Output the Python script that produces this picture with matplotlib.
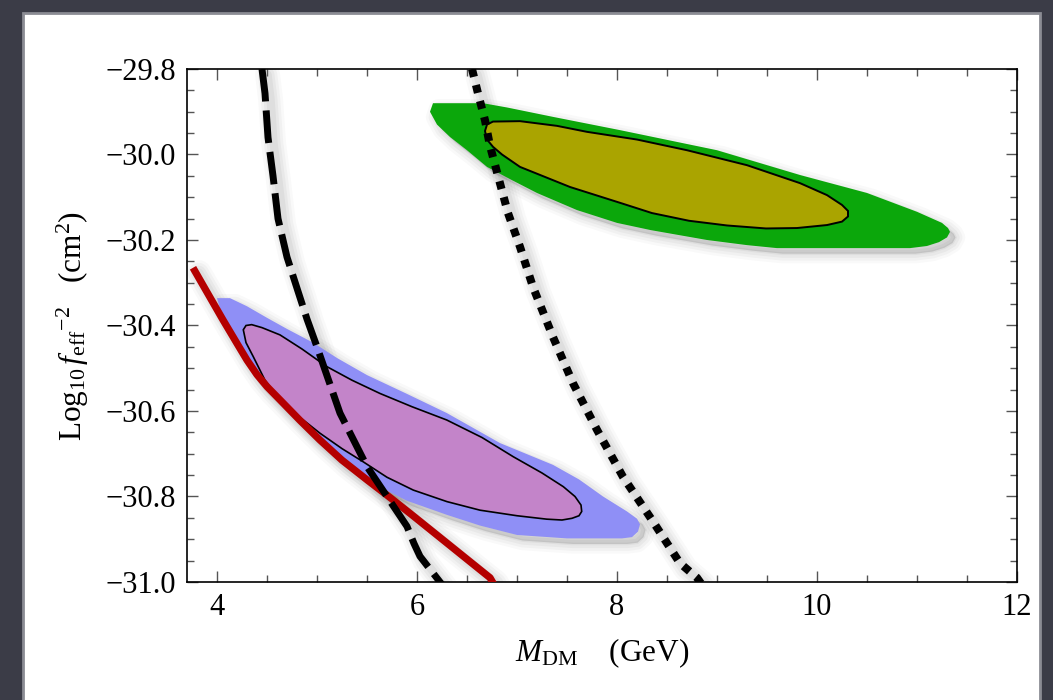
import matplotlib
matplotlib.use("Agg")
import matplotlib.pyplot as plt
import matplotlib.transforms as mtransforms
from matplotlib.patches import Polygon, Rectangle
from matplotlib.ticker import MultipleLocator, FuncFormatter

plt.rcParams['font.family'] = ['Liberation Serif', 'DejaVu Serif']
plt.rcParams['mathtext.fontset'] = 'custom'
plt.rcParams['mathtext.rm'] = 'Liberation Serif'
plt.rcParams['mathtext.it'] = 'Liberation Serif:italic'
plt.rcParams['mathtext.bf'] = 'Liberation Serif:bold'

# ---------------- data ----------------
# green (outer) region
green_x = [6.16, 6.66, 6.9, 7.36, 8.03, 9.0, 9.83, 10.5, 11.0, 11.25, 11.31, 11.33, 11.3, 11.22,
           11.1, 10.93, 9.6, 9.3, 8.9, 8.34, 8.0, 7.6, 7.2, 6.95, 6.70, 6.5, 6.33, 6.2, 6.13]
green_y = [-29.88, -29.88, -29.89, -29.912, -29.943, -29.99, -30.048, -30.09, -30.134, -30.16,
           -30.172, -30.181, -30.194, -30.205, -30.214, -30.219, -30.219, -30.212, -30.2, -30.177,
           -30.16, -30.13, -30.09, -30.06, -30.029, -29.99, -29.959, -29.93, -29.90]
# yellow (inner) region
yellow_x = [6.68, 6.70, 6.76, 7.03, 7.4, 7.70, 8.2, 8.7, 9.3, 9.83, 10.1, 10.25, 10.31, 10.31,
            10.25, 10.1, 9.8, 9.49, 9.1, 8.72, 8.35, 8.03, 7.53, 7.03, 6.85, 6.76, 6.70]
yellow_y = [-29.945, -29.93, -29.923, -29.922, -29.933, -29.947, -29.965, -29.99, -30.025, -30.067,
            -30.095, -30.118, -30.132, -30.145, -30.157, -30.165, -30.172, -30.173, -30.166,
            -30.155, -30.137, -30.113, -30.076, -30.029, -30.0, -29.982, -29.965]
# blue (outer) region
blue_x = [4.0, 4.13, 4.3, 4.5, 4.7, 4.96, 5.2, 5.5, 5.9, 6.3, 6.83, 7.36, 7.62, 7.86, 8.1, 8.2,
          8.23, 8.21, 8.15, 8.05, 7.5, 7.0, 6.63, 6.3, 5.9, 5.63, 5.3, 4.96, 4.7, 4.46, 4.3, 4.2,
          4.1, 4.03]
blue_y = [-30.336, -30.336, -30.355, -30.382, -30.408, -30.44, -30.476, -30.516, -30.56, -30.605,
          -30.675, -30.726, -30.76, -30.80, -30.835, -30.852, -30.865, -30.882, -30.895, -30.898,
          -30.898, -30.89, -30.868, -30.843, -30.81, -30.778, -30.72, -30.65, -30.59, -30.527,
          -30.47, -30.434, -30.395, -30.36]
# pink (inner) region
pink_x = [4.263, 4.29, 4.347, 4.45, 4.63, 4.85, 5.097, 5.35, 5.63, 5.95, 6.297, 6.65, 6.963,
          7.25, 7.463, 7.58, 7.64, 7.647, 7.62, 7.55, 7.45, 7.297, 7.0, 6.63, 6.3, 5.963, 5.7,
          5.463, 5.25, 5.03, 4.83, 4.63, 4.48, 4.363, 4.29]
pink_y = [-30.410, -30.400, -30.398, -30.405, -30.422, -30.455, -30.496, -30.528, -30.559, -30.59,
          -30.621, -30.662, -30.707, -30.745, -30.777, -30.800, -30.82, -30.835, -30.845, -30.851,
          -30.855, -30.853, -30.845, -30.832, -30.812, -30.785, -30.755, -30.719, -30.688, -30.652,
          -30.615, -30.574, -30.528, -30.473, -30.44]
# dashed black curve
dash_x = [4.45, 4.48, 4.51, 4.56, 4.61, 4.70, 4.81, 4.9, 5.0, 5.23, 5.5, 5.7, 5.9, 5.97, 6.03,
          6.23, 6.30]
dash_y = [-29.80, -29.857, -29.96, -30.05, -30.15, -30.24, -30.32, -30.385, -30.45, -30.605,
          -30.73, -30.80, -30.87, -30.91, -30.94, -31.0, -31.02]
# dotted black curve
dot_x = [6.55, 6.61, 6.68, 6.73, 6.81, 6.91, 7.03, 7.16, 7.36, 7.56, 7.80, 8.06, 8.35, 8.63, 8.80, 8.86]
dot_y = [-29.80, -29.857, -29.92, -29.98, -30.05, -30.137, -30.216, -30.31, -30.427, -30.535,
         -30.644, -30.754, -30.855, -30.956, -30.99, -31.01]
# red solid curve
red_x = [3.76, 3.9, 4.06, 4.2, 4.3, 4.4, 4.5, 4.63, 4.83, 5.03, 5.25, 5.5, 5.75, 5.96, 6.3,
         6.73, 6.78]
red_y = [-30.265, -30.322, -30.387, -30.442, -30.481, -30.515, -30.543, -30.574, -30.622, -30.668,
         -30.715, -30.761, -30.806, -30.845, -30.909, -30.99, -31.01]

x_ticks = [4, 6, 8, 10, 12]
y_ticks = [-29.8, -30.0, -30.2, -30.4, -30.6, -30.8, -31.0]

# ---------------- figure ----------------
fig = plt.figure(figsize=(10.53, 7.0), dpi=100)
fig.patch.set_facecolor('#3b3c47')
fig.patches.append(Rectangle((23 / 1053, -0.01), (1040 - 23) / 1053, (700 - 13) / 700 + 0.01,
                             transform=fig.transFigure, facecolor='white',
                             edgecolor='#8b8c94', linewidth=2.0, zorder=-10))

ax = fig.add_axes([187 / 1053, 1 - 582 / 700, (1017 - 187) / 1053, (582 - 69) / 700])
ax.set_facecolor('white')
ax.set_xlim(3.7, 12.0)
ax.set_ylim(-31.0, -29.8)

shift = ax.transData + mtransforms.ScaledTranslation(4 / 72, -4 / 72, fig.dpi_scale_trans)
layers = [(14, 0.025), (10, 0.03), (6, 0.035), (2, 0.04)]


def line_shadow(x, y, lw):
    for extra, a in layers:
        ax.plot(x, y, color='k', alpha=a, linewidth=lw + extra, transform=shift,
                solid_capstyle='round', solid_joinstyle='round', zorder=1.5)


def patch_shadow(x, y):
    for extra, a in layers:
        ax.add_patch(Polygon(list(zip(x, y)), closed=True, facecolor='none',
                             edgecolor=(0, 0, 0, a), linewidth=extra, joinstyle='round',
                             transform=shift, zorder=1.4))
    ax.add_patch(Polygon(list(zip(x, y)), closed=True, facecolor=(0, 0, 0, 0.12),
                         edgecolor='none', transform=shift, zorder=1.4))


patch_shadow(green_x, green_y)
patch_shadow(blue_x, blue_y)
line_shadow(red_x, red_y, 5.2)
line_shadow(dot_x, dot_y, 4.0)
line_shadow(dash_x, dash_y, 4.0)

ax.add_patch(Polygon(list(zip(green_x, green_y)), closed=True, facecolor='#0ba70b',
                     edgecolor='none', zorder=2))
ax.add_patch(Polygon(list(zip(yellow_x, yellow_y)), closed=True, facecolor='#aaa400',
                     edgecolor='black', linewidth=1.4, zorder=3))
ax.add_patch(Polygon(list(zip(blue_x, blue_y)), closed=True, facecolor='#8f8ff6',
                     edgecolor='none', zorder=2))
ax.add_patch(Polygon(list(zip(pink_x, pink_y)), closed=True, facecolor='#c384c9',
                     edgecolor='black', linewidth=1.2, zorder=3))

ax.plot(red_x, red_y, color='#b40000', linewidth=5.2, solid_capstyle='butt',
        solid_joinstyle='round', zorder=4)
ax.plot(dot_x, dot_y, color='black', linewidth=5.8, linestyle=(0, (1, 1.05)),
        dash_capstyle='butt', zorder=5)
ax.plot(dash_x, dash_y, color='black', linewidth=5.0, linestyle=(0, (4.7, 1.3)),
        dash_capstyle='butt', zorder=5)

# ticks
ax.set_xticks(x_ticks)
ax.set_yticks(y_ticks)
ax.xaxis.set_minor_locator(MultipleLocator(0.5))
ax.yaxis.set_minor_locator(MultipleLocator(0.05))
ax.yaxis.set_major_formatter(FuncFormatter(lambda v, p: ('%.1f' % v).replace('-', '\u2212')))
ax.tick_params(which='both', direction='in', top=True, right=True, color='#555555', width=1.0,
               labelsize=22)
ax.tick_params(which='major', length=8)
ax.tick_params(which='minor', length=5)
ax.tick_params(axis='x', which='major', pad=8)
ax.tick_params(axis='y', which='major', pad=8)
for s in ax.spines.values():
    s.set_linewidth(1.2)
    s.set_color('black')

ax.set_xlabel(r'$M_{\rm DM}$    (GeV)', fontsize=22.5, labelpad=10)
ax.set_ylabel(r'Log$_{10}\,f_{\rm eff}{}^{-2}$   (cm$^2$)', fontsize=22.5, labelpad=10)

fig.savefig('out.png', dpi=100, facecolor=fig.get_facecolor())
